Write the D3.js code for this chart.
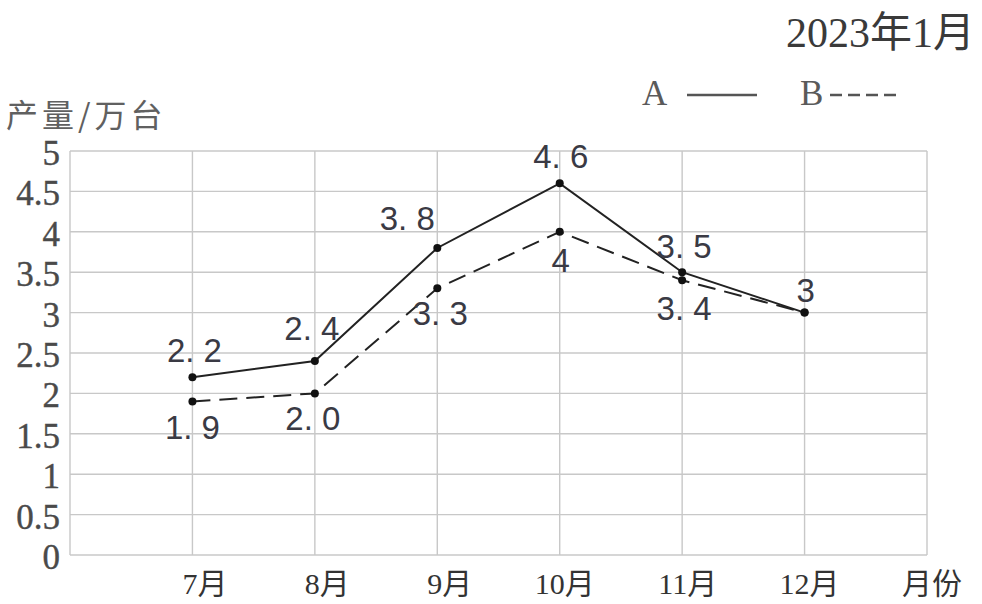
<!DOCTYPE html>
<html>
<head>
<meta charset="utf-8">
<script src="https://cdn.jsdelivr.net/npm/d3@7/dist/d3.min.js"></script>
<style>
  html, body { margin: 0; padding: 0; background: #fff; }
  svg { display: block; }
</style>
</head>
<body>
<svg id="chart" width="982" height="604"></svg>
<script>
// ---- data ----
const months = ["7月", "8月", "9月", "10月", "11月", "12月"];
const seriesA = [2.2, 2.4, 3.8, 4.6, 3.5, 3];
const seriesB = [1.9, 2.0, 3.3, 4, 3.4, 3];
const labelsA = ["2. 2", "2. 4", "3. 8", "4. 6", "3. 5", "3"];
const labelsB = ["1. 9", "2. 0", "3. 3", "4", "3. 4", ""];
const yTicks = [0, 0.5, 1, 1.5, 2, 2.5, 3, 3.5, 4, 4.5, 5];
const yTickLabels = ["0", "0.5", "1", "1.5", "2", "2.5", "3", "3.5", "4", "4.5", "5"];
const xAxisEnd = "月份";
const yTitle = "产量/万台";
const dateText = "2023年1月";
const legendNames = ["A", "B"];

// ---- layout ----
const svg = d3.select("#chart");
const pLeft = 70, pRight = 927, pTop = 151, pBottom = 555;

const x = d3.scalePoint()
  .domain(["", ...months, xAxisEnd])
  .range([pLeft, pRight]);
const y = d3.scaleLinear().domain([0, 5]).range([pBottom, pTop]);

// grid
const grid = svg.append("g");
grid.selectAll("line.h").data(yTicks).join("line")
  .attr("x1", pLeft).attr("x2", pRight)
  .attr("y1", d => y(d)).attr("y2", d => y(d))
  .attr("stroke", "#c8c8c8").attr("stroke-width", 1.4);
grid.selectAll("line.v").data(["", ...months, xAxisEnd]).join("line")
  .attr("x1", d => x(d)).attr("x2", d => x(d))
  .attr("y1", pTop).attr("y2", pBottom)
  .attr("stroke", "#c8c8c8").attr("stroke-width", 1.4);

// y tick labels
svg.append("g").selectAll("text").data(yTicks).join("text")
  .attr("x", 60).attr("y", d => y(d) + 14)
  .attr("text-anchor", "end")
  .attr("font-family", "'Liberation Serif', 'Times New Roman', serif")
  .attr("font-size", 35).attr("fill", "#4a4a4a")
  .attr("stroke", "#4a4a4a").attr("stroke-width", 0.4)
  .text((d, i) => yTickLabels[i]);

// x labels
svg.append("g").selectAll("text").data([...months, xAxisEnd]).join("text")
  .attr("x", d => x(d) + 35).attr("y", 594)
  .attr("text-anchor", "end")
  .attr("font-family", "'Liberation Serif', 'Noto Sans CJK SC', serif")
  .attr("font-size", 30).attr("fill", "#333")
  .text(d => d);

// y title
svg.append("text")
  .attr("x", 6).attr("y", 127)
  .attr("font-family", "'Noto Sans CJK SC', sans-serif")
  .attr("font-size", 32).attr("font-weight", 400).attr("fill", "#606060")
  .attr("letter-spacing", 4)
  .text(yTitle);

// date
svg.append("text")
  .attr("x", 975).attr("y", 47)
  .attr("text-anchor", "end")
  .attr("font-family", "'Liberation Serif', 'Noto Sans CJK SC', serif")
  .attr("font-size", 42).attr("fill", "#3a3a3a")
  .text(dateText);

// legend
const lg = svg.append("g").attr("font-family", "'Liberation Serif', serif")
  .attr("font-size", 35).attr("fill", "#5a5a5a");
lg.append("text").attr("x", 642).attr("y", 105).text(legendNames[0]);
lg.append("line").attr("x1", 687).attr("x2", 757).attr("y1", 95).attr("y2", 95)
  .attr("stroke", "#555").attr("stroke-width", 2.5);
lg.append("text").attr("x", 800).attr("y", 105).text(legendNames[1]);
lg.append("line").attr("x1", 830).attr("x2", 898).attr("y1", 95).attr("y2", 95)
  .attr("stroke", "#555").attr("stroke-width", 2.5).attr("stroke-dasharray", "12,6");

// lines
const line = d3.line().x((d, i) => x(months[i])).y(d => y(d));
svg.append("path").attr("d", line(seriesA))
  .attr("fill", "none").attr("stroke", "#222").attr("stroke-width", 2);
svg.append("path").attr("d", line(seriesB))
  .attr("fill", "none").attr("stroke", "#222").attr("stroke-width", 2)
  .attr("stroke-dasharray", "18,9");

// points
[seriesA, seriesB].forEach(s => {
  svg.append("g").selectAll("circle").data(s).join("circle")
    .attr("cx", (d, i) => x(months[i])).attr("cy", d => y(d))
    .attr("r", 4).attr("fill", "#111");
});

// value labels (placement offsets)
const offA = [[2, -15], [-3, -21], [-30, -18], [1, -15], [2, -14], [1, -11]];
const offB = [[0, 38], [-2, 37], [3, 37], [1, 40], [2, 40], [0, 0]];
const labelFont = "'Liberation Sans', Arial, sans-serif";
svg.append("g").selectAll("text").data(seriesA).join("text")
  .attr("x", (d, i) => x(months[i]) + offA[i][0])
  .attr("y", (d, i) => y(d) + offA[i][1])
  .attr("text-anchor", "middle").attr("font-family", labelFont)
  .attr("font-size", 33).attr("fill", "#3a3a44")
  .text((d, i) => labelsA[i]);
svg.append("g").selectAll("text").data(seriesB).join("text")
  .attr("x", (d, i) => x(months[i]) + offB[i][0])
  .attr("y", (d, i) => y(d) + offB[i][1])
  .attr("text-anchor", "middle").attr("font-family", labelFont)
  .attr("font-size", 33).attr("fill", "#3a3a44")
  .text((d, i) => labelsB[i]);
</script>
</body>
</html>
